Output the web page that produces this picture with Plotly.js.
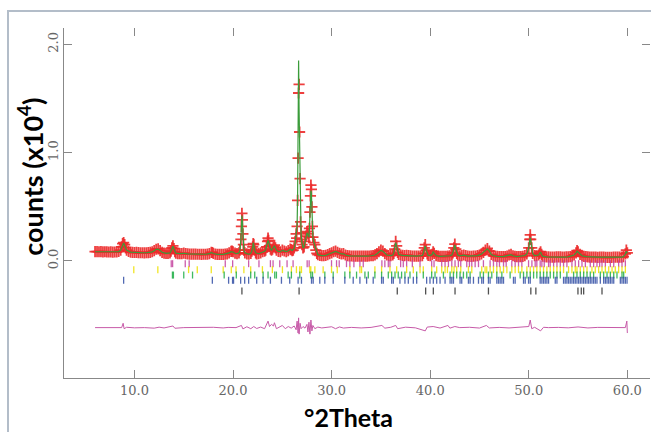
<!DOCTYPE html>
<html>
<head>
<meta charset="utf-8">
<script src="https://cdn.plot.ly/plotly-3.0.1.min.js"></script>
<style>
  html, body { margin:0; padding:0; background:#fff; }
  #wrap { position:relative; width:651px; height:432px; overflow:hidden; }
  #chart { position:absolute; left:0; top:0; width:651px; height:432px; }
  #frame { position:absolute; left:7px; top:10px; width:700px; height:500px;
           border-left:2px solid #b3bdc9; border-top:2px solid #b3bdc9; pointer-events:none; }
</style>
</head>
<body>
<div id="wrap"><div id="chart"></div><div id="frame"></div></div>
<script>
// Observed profile: [2theta, counts x10^4]
const observed = [
[6.0,.086],[6.2,.087],[6.4,.085],[6.6,.086],[6.8,.084],[7.0,.085],[7.2,.084],[7.4,.083],[7.6,.084],[7.8,.082],
[8.0,.083],[8.2,.084],[8.4,.088],[8.6,.10],[8.7,.13],[8.8,.16],[8.9,.17],[9.0,.15],[9.1,.12],[9.2,.10],
[9.4,.088],[9.6,.082],[9.8,.080],[10.0,.078],[10.2,.079],[10.4,.077],[10.6,.076],[10.8,.076],[11.0,.075],[11.2,.076],
[11.4,.077],[11.6,.080],[11.8,.085],[12.0,.095],[12.2,.108],[12.4,.112],[12.6,.095],[12.8,.080],[13.0,.072],[13.2,.070],
[13.4,.070],[13.6,.075],[13.7,.09],[13.8,.12],[13.9,.14],[14.0,.115],[14.1,.085],[14.2,.072],[14.4,.068],[14.6,.067],
[14.8,.068],[15.0,.073],[15.2,.068],[15.4,.065],[15.6,.064],[15.8,.064],[16.0,.063],[16.2,.063],[16.4,.062],[16.6,.062],
[16.8,.061],[17.0,.062],[17.2,.062],[17.4,.063],[17.6,.068],[17.8,.080],[17.9,.078],[18.0,.070],[18.2,.063],[18.4,.061],
[18.6,.060],[18.8,.060],[19.0,.061],[19.2,.063],[19.4,.066],[19.6,.075],[19.8,.088],[19.9,.090],[20.0,.085],[20.2,.072],
[20.4,.068],[20.6,.075],[20.7,.10],[20.8,.20],[20.85,.32],[20.9,.44],[20.95,.38],[21.0,.25],[21.05,.15],[21.1,.10],
[21.2,.075],[21.4,.065],[21.6,.062],[21.8,.070],[21.9,.09],[22.0,.13],[22.05,.16],[22.1,.15],[22.2,.10],[22.3,.075],
[22.4,.066],[22.6,.068],[22.8,.075],[23.0,.085],[23.2,.09],[23.3,.10],[23.4,.13],[23.5,.18],[23.55,.21],[23.6,.19],
[23.7,.14],[23.8,.11],[23.9,.10],[24.0,.11],[24.1,.13],[24.2,.145],[24.3,.12],[24.4,.10],[24.6,.088],[24.8,.085],
[25.0,.10],[25.2,.092],[25.4,.085],[25.6,.095],[25.8,.11],[25.9,.105],[26.0,.095],[26.1,.10],[26.2,.12],[26.3,.18],
[26.4,.25],[26.45,.21],[26.5,.32],[26.55,.56],[26.6,.95],[26.65,1.55],[26.7,1.63],[26.75,1.19],[26.8,.76],[26.85,.36],
[26.9,.26],[26.95,.20],[27.0,.15],[27.1,.12],[27.2,.13],[27.3,.18],[27.4,.23],[27.5,.27],[27.6,.25],[27.7,.22],
[27.75,.30],[27.8,.45],[27.85,.60],[27.9,.70],[27.95,.66],[28.0,.50],[28.05,.32],[28.1,.22],[28.2,.17],[28.3,.15],
[28.4,.10],[28.5,.07],[28.6,.058],[28.8,.052],[29.0,.050],[29.2,.050],[29.4,.052],[29.6,.058],[29.8,.068],[30.0,.075],
[30.2,.085],[30.4,.090],[30.6,.080],[30.8,.070],[31.0,.065],[31.2,.068],[31.4,.055],[31.6,.050],[31.8,.047],[32.0,.046],
[32.2,.045],[32.4,.045],[32.6,.044],[32.8,.044],[33.0,.045],[33.2,.044],[33.4,.044],[33.6,.045],[33.8,.046],[34.0,.048],
[34.2,.050],[34.4,.056],[34.6,.068],[34.8,.085],[35.0,.10],[35.2,.09],[35.4,.068],[35.6,.055],[35.8,.050],[36.0,.050],
[36.2,.055],[36.3,.07],[36.4,.11],[36.5,.18],[36.6,.14],[36.7,.08],[36.8,.06],[37.0,.055],[37.2,.052],[37.4,.050],
[37.6,.053],[37.8,.050],[38.0,.047],[38.2,.045],[38.4,.044],[38.6,.044],[38.8,.045],[39.0,.046],[39.2,.050],[39.3,.07],
[39.4,.12],[39.5,.15],[39.6,.10],[39.7,.065],[39.8,.052],[40.0,.050],[40.2,.060],[40.3,.085],[40.4,.070],[40.6,.050],
[40.8,.045],[41.0,.043],[41.2,.042],[41.4,.042],[41.6,.043],[41.8,.045],[42.0,.048],[42.2,.055],[42.3,.075],[42.4,.12],
[42.5,.155],[42.6,.11],[42.7,.07],[42.8,.055],[43.0,.048],[43.2,.050],[43.4,.055],[43.6,.050],[43.8,.045],[44.0,.043],
[44.2,.043],[44.4,.044],[44.6,.046],[44.8,.050],[45.0,.055],[45.2,.065],[45.4,.080],[45.6,.10],[45.8,.115],[46.0,.09],
[46.2,.06],[46.4,.050],[46.6,.045],[46.8,.042],[47.0,.041],[47.2,.040],[47.4,.040],[47.6,.041],[47.8,.045],[48.0,.055],
[48.2,.060],[48.4,.048],[48.6,.042],[48.8,.040],[49.0,.040],[49.2,.041],[49.4,.043],[49.6,.050],[49.8,.065],[50.0,.12],
[50.1,.20],[50.15,.24],[50.2,.20],[50.3,.12],[50.4,.07],[50.6,.050],[50.8,.048],[51.0,.055],[51.1,.07],[51.2,.085],
[51.3,.06],[51.4,.045],[51.6,.040],[51.8,.038],[52.0,.037],[52.2,.036],[52.4,.036],[52.6,.036],[52.8,.037],[53.0,.038],
[53.2,.037],[53.4,.036],[53.6,.036],[53.8,.037],[54.0,.038],[54.2,.040],[54.4,.045],[54.6,.055],[54.8,.075],[54.9,.095],
[55.0,.085],[55.2,.060],[55.4,.048],[55.6,.042],[55.8,.040],[56.0,.038],[56.2,.036],[56.4,.035],[56.6,.035],[56.8,.035],
[57.0,.034],[57.2,.035],[57.4,.036],[57.6,.035],[57.8,.034],[58.0,.034],[58.2,.034],[58.4,.034],[58.6,.035],[58.8,.035],
[59.0,.035],[59.2,.036],[59.4,.036],[59.6,.040],[59.8,.065],[59.9,.10],[60.0,.075]
];

// Calculated profile: [2theta, counts x10^4]
const calculated = [
[6.0,.085],[6.4,.085],[6.8,.084],[7.2,.084],[7.6,.083],[8.0,.083],[8.4,.087],[8.6,.10],[8.8,.155],[8.9,.165],
[9.0,.145],[9.2,.10],[9.6,.082],[10.0,.078],[10.4,.077],[10.8,.076],[11.2,.076],[11.6,.079],[11.8,.084],[12.0,.094],
[12.2,.107],[12.4,.11],[12.6,.094],[12.8,.08],[13.2,.07],[13.6,.074],[13.7,.09],[13.8,.12],[13.9,.135],[14.0,.112],
[14.1,.085],[14.2,.072],[14.6,.067],[15.0,.071],[15.4,.065],[16.0,.063],[16.6,.062],[17.2,.062],[17.6,.067],[17.8,.078],
[18.0,.069],[18.4,.061],[19.0,.061],[19.4,.066],[19.6,.074],[19.8,.086],[19.9,.088],[20.0,.083],[20.2,.071],[20.4,.068],
[20.6,.075],[20.7,.10],[20.8,.20],[20.85,.32],[20.9,.42],[20.95,.36],[21.0,.24],[21.05,.15],[21.1,.10],[21.2,.075],
[21.6,.062],[21.8,.07],[21.9,.09],[22.0,.13],[22.05,.17],[22.1,.15],[22.2,.10],[22.3,.075],[22.6,.067],[22.8,.074],
[23.0,.084],[23.2,.09],[23.3,.10],[23.4,.13],[23.5,.17],[23.55,.19],[23.6,.18],[23.7,.135],[23.8,.11],[23.9,.10],
[24.0,.108],[24.1,.125],[24.2,.14],[24.3,.12],[24.4,.10],[24.6,.088],[24.8,.086],[25.0,.098],[25.2,.092],[25.4,.086],
[25.6,.095],[25.8,.108],[26.0,.096],[26.2,.115],[26.3,.17],[26.4,.24],[26.5,.33],[26.55,.60],[26.6,1.0],[26.65,1.85],
[26.7,1.4],[26.75,1.05],[26.8,.70],[26.85,.38],[26.9,.25],[26.95,.19],[27.0,.15],[27.1,.12],[27.2,.13],[27.3,.18],
[27.4,.22],[27.5,.26],[27.6,.24],[27.7,.22],[27.75,.30],[27.8,.44],[27.85,.58],[27.9,.65],[27.95,.63],[28.0,.50],
[28.05,.32],[28.1,.22],[28.2,.17],[28.3,.14],[28.4,.10],[28.5,.07],[28.6,.058],[29.0,.05],[29.4,.052],[29.8,.067],
[30.0,.074],[30.2,.083],[30.4,.088],[30.6,.08],[30.8,.07],[31.0,.065],[31.2,.066],[31.4,.055],[31.8,.047],[32.4,.045],
[33.0,.044],[33.6,.045],[34.0,.048],[34.4,.055],[34.6,.067],[34.8,.084],[35.0,.098],[35.2,.089],[35.4,.068],[35.6,.055],
[36.0,.05],[36.2,.055],[36.3,.07],[36.4,.11],[36.5,.17],[36.6,.135],[36.7,.08],[36.8,.06],[37.2,.052],[37.6,.052],
[38.0,.047],[38.6,.044],[39.0,.046],[39.2,.05],[39.3,.07],[39.4,.115],[39.5,.14],[39.6,.10],[39.7,.065],[39.8,.052],
[40.0,.05],[40.2,.06],[40.3,.083],[40.4,.07],[40.6,.05],[41.0,.043],[41.6,.043],[42.0,.048],[42.2,.055],[42.3,.075],
[42.4,.115],[42.5,.148],[42.6,.11],[42.7,.07],[42.8,.055],[43.0,.048],[43.4,.054],[43.8,.045],[44.4,.044],[44.8,.05],
[45.2,.065],[45.4,.08],[45.6,.098],[45.8,.112],[46.0,.09],[46.2,.06],[46.4,.05],[46.8,.042],[47.4,.04],[47.8,.045],
[48.0,.054],[48.2,.058],[48.4,.048],[48.8,.04],[49.4,.043],[49.6,.05],[49.8,.065],[50.0,.12],[50.1,.19],[50.15,.215],
[50.2,.19],[50.3,.12],[50.4,.07],[50.6,.05],[51.0,.055],[51.1,.07],[51.2,.082],[51.3,.06],[51.4,.045],[51.8,.038],
[52.4,.036],[53.0,.037],[53.6,.036],[54.0,.038],[54.4,.045],[54.6,.055],[54.8,.075],[54.9,.09],[55.0,.083],[55.2,.06],
[55.4,.048],[55.8,.04],[56.4,.035],[57.0,.035],[57.6,.035],[58.2,.034],[58.8,.035],[59.4,.036],[59.6,.04],[59.8,.062],
[59.9,.09],[60.0,.072]
];

// Difference (obs - calc): [2theta, counts x10^4]
const difference = [
[6.0,0],[7.0,.002],[8.0,-.002],[8.7,0],[8.85,.04],[8.95,-.01],[9.2,.003],[10.0,-.002],[11.0,0],[12.0,-.005],
[12.5,.004],[13.0,-.003],[13.9,.015],[14.1,-.006],[15.0,0],[16.0,.002],[17.0,-.002],[18.0,.003],[19.0,-.003],[19.5,.002],
[20.3,0],[20.85,.02],[21.0,-.012],[21.4,.008],[21.8,-.01],[22.1,.01],[22.4,-.008],[22.8,.005],[23.2,-.01],[23.4,.03],
[23.55,.06],[23.7,.01],[23.9,.03],[24.1,.015],[24.2,.045],[24.4,-.01],[24.8,.01],[25.0,.02],[25.3,-.01],[25.6,.01],
[25.9,-.005],[26.2,.015],[26.4,-.02],[26.5,.06],[26.6,-.05],[26.65,.09],[26.7,-.06],[26.8,.04],[26.9,-.01],[27.1,.01],
[27.3,-.005],[27.5,.03],[27.6,-.04],[27.7,.05],[27.8,-.06],[27.9,.07],[28.0,-.03],[28.1,.02],[28.3,-.01],[28.6,.005],
[29.0,-.003],[29.5,.004],[30.0,.008],[30.4,-.01],[30.8,.006],[31.2,-.004],[32.0,.002],[33.0,-.003],[34.0,.002],[35.1,.02],
[35.4,-.005],[36.0,.003],[36.5,.02],[36.7,-.01],[37.5,.004],[38.5,-.002],[39.5,-.03],[39.7,.005],[40.3,.01],[41.0,-.004],
[41.8,.02],[42.0,-.005],[42.5,.01],[43.0,0],[44.0,.003],[45.0,-.004],[45.7,.02],[46.0,-.003],[47.0,.002],[48.0,-.003],
[49.0,.002],[50.0,.01],[50.15,.07],[50.3,-.01],[50.6,.003],[51.2,-.03],[51.5,.003],[52.0,0],[53.0,.002],[54.0,-.002],
[55.0,.006],[56.0,-.003],[57.0,.002],[58.0,.003],[59.0,-.002],[59.8,0],[59.95,.06],[60.0,-.05]
];

// Reflection positions (2theta) for each phase
const phase1Ticks = [13.73,13.87,15.15,15.55,19.21,19.96,21.58,22.63,23.79,24.06,24.74,25.48,26.09,27.52,27.72,29.99,30.5,30.77,31.51,31.85,32.26,32.87,33.21,35.1,35.4,35.75,35.92,37.0,37.27,37.61,38.19,38.97,40.15,40.39,41.17,41.51,41.85,42.19,42.52,42.86,43.1,43.71,43.98,44.22,44.56,44.9,45.4,46.08,46.42,46.76,47.03,47.44,47.71,48.28,48.62,48.96,49.3,49.98,50.32,50.65,50.82,51.16,51.33,51.57,52.01,52.18,52.52,52.86,53.2,53.53,53.87,54.38,54.72,55.06,55.4,55.74,56.24,56.58,56.92,57.19,57.43,57.77,58.28,58.62,59.12,59.46,59.8];
const phase2Ticks = [9.93,12.37,15.49,16.37,17.79,19.0,19.82,20.3,21.1,21.79,22.98,23.99,25.01,25.92,26.43,26.77,26.94,27.79,27.89,28.3,29.14,29.99,30.57,31.85,32.87,33.04,34.39,35.07,35.92,36.6,37.61,38.29,38.97,39.3,40.15,40.66,41.17,41.51,41.75,42.19,42.42,42.69,43.1,43.88,44.22,45.23,45.57,45.74,46.08,46.42,46.76,47.1,47.44,47.78,48.28,48.62,48.96,49.3,49.81,50.15,50.49,50.82,51.16,51.5,51.84,52.18,52.52,52.86,53.2,53.53,54.04,54.38,54.72,54.89,55.23,55.57,55.91,56.41,56.75,57.09,57.43,57.77,58.11,58.45,58.78,59.12,59.46,59.8];
const phase3Ticks = [13.85,13.95,15.0,15.89,19.1,20.33,21.79,22.2,23.05,23.55,24.23,24.4,25.59,25.92,26.77,27.89,28.06,29.31,30.16,31.34,31.85,32.53,33.38,33.72,34.39,35.07,35.75,36.09,36.43,36.76,37.1,37.44,37.95,38.63,39.3,40.15,40.49,41.34,42.02,42.36,42.69,43.03,43.37,43.71,44.05,45.07,45.4,45.91,46.25,46.76,47.27,48.11,49.13,49.47,49.81,50.15,50.49,50.82,51.16,51.5,51.84,52.18,52.52,52.86,53.2,53.87,54.55,54.89,55.23,55.57,55.91,56.24,56.58,57.26,57.6,57.94,58.28,58.62,58.95,59.46,59.63];
const phase4Ticks = [8.9,17.9,19.55,19.95,20.05,20.77,21.18,21.58,22.4,23.05,23.79,24.91,25.75,26.6,26.94,27.96,28.13,28.8,29.31,30.16,31.34,32.19,32.87,33.55,34.22,35.07,35.24,36.09,36.26,36.93,37.44,37.78,38.29,38.63,39.64,39.98,40.32,40.66,41.0,41.51,42.02,42.19,42.36,43.03,43.2,43.88,44.05,44.39,44.9,45.23,45.4,45.91,46.08,46.76,46.93,47.1,47.27,47.44,48.45,48.62,49.47,49.64,49.98,50.15,51.16,51.33,51.5,51.67,51.84,52.01,52.69,52.86,53.53,53.7,53.87,54.04,54.21,54.38,54.55,54.72,54.89,55.06,55.23,55.4,55.57,55.74,55.91,56.07,56.24,56.41,56.58,56.75,56.92,57.26,57.6,57.77,57.94,58.11,58.28,58.45,58.62,59.29,59.46,59.63,59.8,59.97];
const phase5Ticks = [20.9,26.7,36.66,39.54,40.32,42.52,45.91,50.21,50.72,54.99,55.33,55.57,57.43];

const xTickVals = [10,20,30,40,50,60];
const xTickLabels = ['10.0','20.0','30.0','40.0','50.0','60.0'];
const yTickVals = [0,1,2];
const yTickLabels = ['0.0','1.0','2.0'];

// display offsets (plot positions)
const diffOffset = -0.615;
const tickRows = [-0.025,-0.08,-0.13,-0.178,-0.277];
const tickColors = ['#c2409c','#efe000','#1fae45','#3450a6','#333333'];
const phases = [phase1Ticks,phase2Ticks,phase3Ticks,phase4Ticks,phase5Ticks];

const traces = [];
traces.push({
  x: observed.map(p=>p[0]), y: observed.map(p=>p[1]),
  type:'scatter', mode:'markers', hoverinfo:'skip',
  marker:{symbol:'cross-thin-open', size:8, color:'#ec2a2a', opacity:0.9, line:{color:'#ec2a2a', width:1.8}}
});
traces.push({
  x: calculated.map(p=>p[0]), y: calculated.map(p=>p[1]),
  type:'scatter', mode:'lines', hoverinfo:'skip',
  line:{color:'#3a9c3a', width:1.2}
});
traces.push({
  x: difference.map(p=>p[0]), y: difference.map(p=>p[1]+diffOffset),
  type:'scatter', mode:'lines', hoverinfo:'skip',
  line:{color:'#c75aa8', width:1}
});
phases.forEach((arr,i)=>{
  traces.push({
    x: arr, y: arr.map(()=>tickRows[i]),
    type:'scatter', mode:'markers', hoverinfo:'skip',
    marker:{symbol:'line-ns-open', size:5, color:tickColors[i], opacity:0.85, line:{color:tickColors[i], width:1.3}}
  });
});
// mirrored axes (ticks only)
traces.push({x:[10], y:[0], xaxis:'x2', yaxis:'y2', mode:'markers', marker:{opacity:0}, hoverinfo:'skip', type:'scatter'});

const tickFont = {family:'DejaVu Serif', size:13, color:'#666'};
const xr = [2.85, 62.3], yr = [-1.08, 2.15];
const layout = {
  width:651, height:432,
  margin:{l:64, r:1, t:28, b:54},
  paper_bgcolor:'#fff', plot_bgcolor:'#fff',
  showlegend:false,
  xaxis:{range:xr, tickvals:xTickVals, ticktext:xTickLabels, ticks:'inside', ticklen:8, tickcolor:'#888', tickwidth:1,
         showline:true, linecolor:'#888', linewidth:1, showgrid:false, zeroline:false, tickfont:tickFont},
  yaxis:{range:yr, tickvals:yTickVals, ticktext:yTickLabels, ticks:'inside', ticklen:8, tickcolor:'#888', tickwidth:1,
         showline:true, linecolor:'#888', linewidth:1, showgrid:false, zeroline:false, tickfont:tickFont, tickangle:-90},
  xaxis2:{range:xr, overlaying:'x', side:'top', tickvals:xTickVals, ticktext:xTickLabels, ticks:'inside', ticklen:8, tickcolor:'#888',
          showticklabels:false, showline:false, showgrid:false, zeroline:false},
  yaxis2:{range:yr, overlaying:'y', side:'right', tickvals:yTickVals, ticktext:yTickLabels, ticks:'inside', ticklen:8, tickcolor:'#888',
          showticklabels:false, showline:false, showgrid:false, zeroline:false},
  annotations:[
    {xref:'paper', yref:'paper', x:-0.058, y:0.575, xanchor:'center', yanchor:'middle', textangle:-90, showarrow:false,
     text:'<b>counts (x10<sup>4</sup>)</b>', font:{family:'Lato', size:27, color:'#000'}},
    {xref:'paper', yref:'paper', x:0.485, y:-0.112, xanchor:'center', yanchor:'middle', showarrow:false,
     text:'<b>°2Theta</b>', font:{family:'Lato', size:25, color:'#000'}}
  ]
};
Plotly.newPlot('chart', traces, layout, {staticPlot:true, displayModeBar:false});
</script>
</body>
</html>
